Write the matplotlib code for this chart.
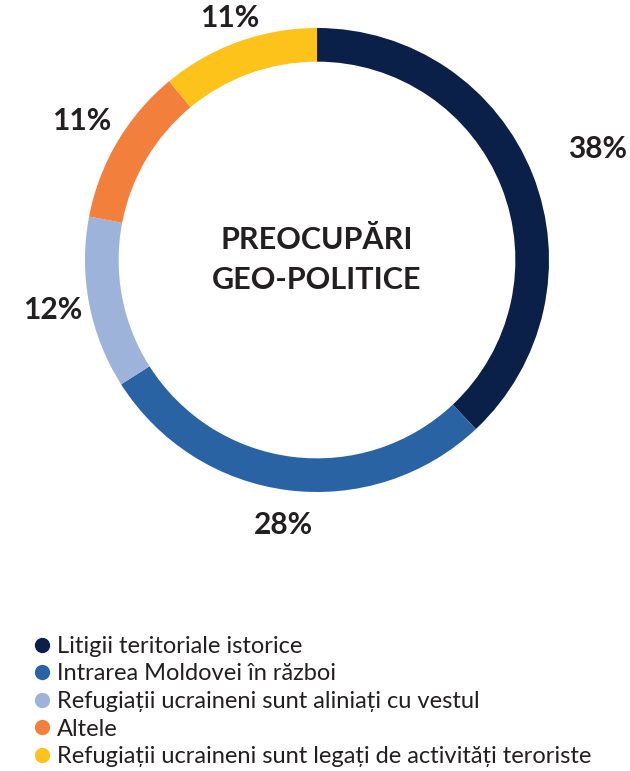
import numpy as np
import matplotlib.pyplot as plt
from matplotlib.lines import Line2D

plt.rcParams['font.family'] = ['Lato', 'DejaVu Sans']

# data
categories = [
    'Litigii teritoriale istorice',
    'Intrarea Moldovei în război',
    'Refugiații ucraineni sunt aliniați cu vestul',
    'Altele',
    'Refugiații ucraineni sunt legați de activități teroriste',
]
values = [38, 28, 12, 11, 11]
colors = ['#0b2049', '#2963a4', '#9db3da', '#f37f3d', '#fdc31b']
center_title = 'PREOCUPĂRI\nGEO-POLITICE'

# distance of each percent label from centre (in radii)
label_dist = [1.30, 1.15, 1.16, 1.18, 1.11]

fig = plt.figure(figsize=(6.3, 7.71), dpi=100)
W, H = 630, 771
cx, cy, R = 317, 260, 232
half = 300
ax = fig.add_axes([(cx - half) / W, (H - cy - half) / H, 2 * half / W, 2 * half / H])

wedges, _ = ax.pie(values, colors=colors, radius=R, startangle=90, counterclock=False,
                   wedgeprops=dict(width=R * 0.145, edgecolor='none'))
# pie resets the limits, so set them afterwards
ax.set_xlim(-half, half)
ax.set_ylim(-half, half)
ax.set_aspect('equal')
ax.axis('off')

for w, v, d in zip(wedges, values, label_dist):
    ang = np.deg2rad((w.theta1 + w.theta2) / 2)
    ax.text(R * d * np.cos(ang), R * d * np.sin(ang), f'{v}%', ha='center', va='center',
            fontsize=21.5, fontweight='bold', color='#231f20')

ax.text(0, 0, center_title, ha='center', va='center', fontsize=22, fontweight='bold',
        color='#231f20', linespacing=1.5)

handles = [Line2D([0], [0], marker='o', linestyle='none', markersize=11,
                  markerfacecolor=c, markeredgecolor='none') for c in colors]
fig.legend(handles, categories, loc='upper left', bbox_to_anchor=(22 / W, 1 - 624 / H),
           frameon=False, fontsize=17, handlelength=0.7, handletextpad=0.3,
           labelspacing=0.28, borderpad=0, labelcolor='#231f20')

fig.savefig('out.png', dpi=100)
